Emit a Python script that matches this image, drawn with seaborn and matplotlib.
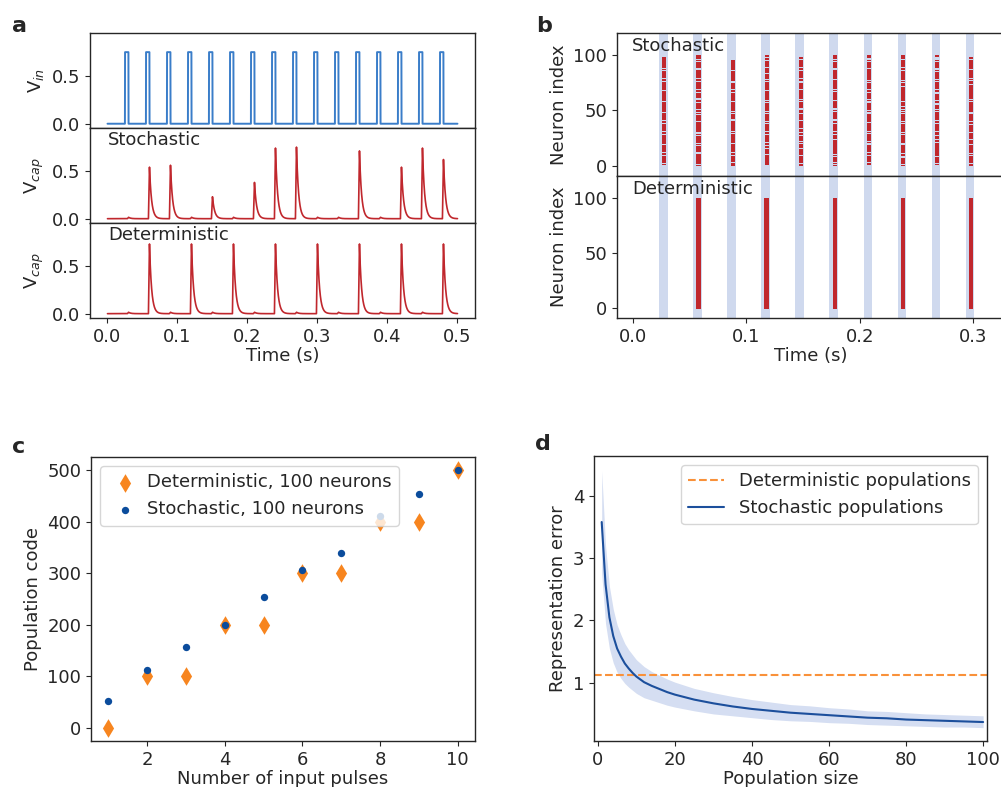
import numpy as np
import matplotlib
matplotlib.use("Agg")
import matplotlib.pyplot as plt
import seaborn as sns

sns.set_style("ticks")
plt.rcParams.update({
    "font.family": ["DejaVu Sans"],
    "font.size": 13,
    "axes.labelsize": 13,
    "xtick.labelsize": 13,
    "ytick.labelsize": 13,
    "legend.fontsize": 13,
    "axes.linewidth": 1.0,
})

# ---- panel a: input pulses and capacitor voltage ----
pulse_on = [0.025, 0.055, 0.085, 0.115, 0.145, 0.175, 0.205, 0.235,
            0.265, 0.295, 0.325, 0.355, 0.385, 0.415, 0.445, 0.475]
PULSE_WIDTH = 0.005
VIN_HIGH = 0.75

stoch_spike_t = [0.06, 0.09, 0.15, 0.21, 0.24, 0.27, 0.36, 0.42, 0.45, 0.48]
stoch_spike_v = [0.54, 0.56, 0.23, 0.38, 0.74, 0.75, 0.71, 0.54, 0.74, 0.62]
stoch_bump_t = [0.03, 0.12, 0.18, 0.30, 0.33, 0.39]

det_spike_t = [0.06, 0.12, 0.18, 0.24, 0.30, 0.36, 0.42, 0.48]
det_spike_v = [0.73, 0.73, 0.73, 0.73, 0.73, 0.73, 0.73, 0.73]
det_bump_t = [0.03, 0.09, 0.15, 0.21, 0.27, 0.33, 0.39, 0.45]
BUMP_V = 0.015

# ---- panel b: raster ----
pulse_end = [0.03, 0.06, 0.09, 0.12, 0.15, 0.18, 0.21, 0.24, 0.27, 0.30]
det_fire_t = [0.06, 0.12, 0.18, 0.24, 0.30]
N_NEURONS = 100
# which of the 100 neurons fired at each pulse (hex bit masks, neuron 0 first)
stoch_fire_hex = [
    "5DB7A EF6D5 BB7ED AF7B6 DD5BE",
    "B5E6D 7A9BF 5D6EB 3DAF6 BE5D7",
    "EDB5F 6BAD7 9EB6D F5BA7 6DEB0",
    "7BDE5 AF6BD 5EB7A DB6F5 E7BAD",
    "D6BE7 5AD9F B6E5D 7BAE6 D5BF6",
    "AF5DB E76BD 9FA5E D6B7D BE6D7",
    "6DB7E 5BAF6 DE5B9 7DAEB 6F5D3",
    "BE6DA 7F5BD 6EA9D B7E6B 5DAF7",
    "5F7DB A6ED5 B7AE6 D9BF5 EA6D1",
    "D7AB6 E5DFB 6A7ED 5BE9A F6DB6",
]

# ---- panel c: population code ----
n_pulses = [1, 2, 3, 4, 5, 6, 7, 8, 9, 10]
det_code = [0, 100, 100, 200, 200, 300, 300, 400, 400, 500]
stoch_code = [53, 112, 158, 200, 253, 306, 340, 410, 453, 500]

# ---- panel d: representation error ----
pop_size = [1, 2, 3, 4, 5, 6, 7, 8, 9, 10, 12, 14, 16, 18, 20, 25, 30, 35,
            40, 45, 50, 55, 60, 65, 70, 75, 80, 85, 90, 95, 100]
err_mean = [3.58, 2.58, 2.05, 1.75, 1.55, 1.42, 1.31, 1.23, 1.16, 1.10,
            1.01, 0.95, 0.90, 0.85, 0.81, 0.73, 0.67, 0.62, 0.58, 0.55,
            0.52, 0.50, 0.48, 0.46, 0.44, 0.43, 0.41, 0.40, 0.39, 0.38, 0.37]
err_hi = [4.40, 3.20, 2.55, 2.18, 1.93, 1.77, 1.63, 1.53, 1.45, 1.37,
          1.26, 1.18, 1.12, 1.06, 1.01, 0.91, 0.84, 0.78, 0.73, 0.69,
          0.65, 0.63, 0.60, 0.58, 0.55, 0.54, 0.52, 0.50, 0.49, 0.48, 0.47]
err_lo = [2.75, 1.95, 1.55, 1.32, 1.17, 1.07, 0.99, 0.93, 0.88, 0.83,
          0.76, 0.72, 0.68, 0.64, 0.61, 0.55, 0.50, 0.47, 0.44, 0.41,
          0.39, 0.38, 0.36, 0.35, 0.33, 0.32, 0.31, 0.30, 0.29, 0.29, 0.28]
DET_ERROR = 1.12

BLUE_IN = "#3a7dc9"
RED = "#c0272d"
BAND = "#cfd9ee"
ORANGE = "#f7851f"
NAVY = "#0b4c9c"

t = np.linspace(0, 0.5, 5001)


def vin_trace():
    v = np.zeros_like(t)
    for on in pulse_on:
        v[(t >= on) & (t < on + PULSE_WIDTH)] = VIN_HIGH
    return v


def cap_trace(spike_t, spike_v, bump_t):
    v = np.zeros_like(t)
    events = list(zip(spike_t, spike_v)) + [(b, BUMP_V) for b in bump_t]
    for tp, a in events:
        rise = (t >= tp - 0.0015) & (t < tp)
        v[rise] += a * (t[rise] - (tp - 0.0015)) / 0.0015
        after = t >= tp
        v[after] += a * np.exp(-(t[after] - tp) / 0.003)
    return v


def fired(hexmask):
    bits = "".join(f"{int(c, 16):04b}" for c in hexmask.replace(" ", ""))
    return [i for i, b in enumerate(bits) if b == "1"]


fig = plt.figure(figsize=(10.01, 7.87), dpi=100)

# panel a
h = (0.958 - 0.596) / 3
axa = [fig.add_axes([0.0899, 0.596 + (2 - i) * h, 0.3846, h]) for i in range(3)]
sns.lineplot(x=t, y=vin_trace(), ax=axa[0], color=BLUE_IN, linewidth=1.4, estimator=None)
sns.lineplot(x=t, y=cap_trace(stoch_spike_t, stoch_spike_v, stoch_bump_t),
             ax=axa[1], color=RED, linewidth=1.2, estimator=None)
sns.lineplot(x=t, y=cap_trace(det_spike_t, det_spike_v, det_bump_t),
             ax=axa[2], color=RED, linewidth=1.2, estimator=None)
axa[0].set_ylabel(r"V$_{in}$")
axa[1].set_ylabel(r"V$_{cap}$")
axa[2].set_ylabel(r"V$_{cap}$")
axa[1].text(0.047, 0.97, "Stochastic", transform=axa[1].transAxes, va="top")
axa[2].text(0.047, 0.97, "Deterministic", transform=axa[2].transAxes, va="top")
for i, ax in enumerate(axa):
    ax.set_xlim(-0.025, 0.525)
    ax.set_ylim(-0.045, 0.95)
    ax.set_yticks([0.0, 0.5])
    ax.set_xticks([0.0, 0.1, 0.2, 0.3, 0.4, 0.5])
    if i < 2:
        ax.tick_params(bottom=False, labelbottom=False)
axa[2].set_xlabel("Time (s)", labelpad=1)

# panel b
hb = (0.958 - 0.596) / 2
axb_s = fig.add_axes([0.6164, 0.596 + hb, 0.3866, hb])
axb_d = fig.add_axes([0.6164, 0.596, 0.3866, hb])
sx, sy = [], []
for p, hx in zip(pulse_end, stoch_fire_hex):
    idx = fired(hx)
    sx += [p - 0.0022] * len(idx)
    sy += idx
dx, dy = [], []
for p in det_fire_t:
    dx += [p - 0.002] * N_NEURONS
    dy += list(range(N_NEURONS))
for ax in (axb_s, axb_d):
    for p in pulse_end:
        ax.axvspan(p - 0.0068, p + 0.0005, color=BAND, lw=0, zorder=0)
    ax.set_xlim(-0.014, 0.327)
    ax.set_ylim(-9, 120)
    ax.set_yticks([0, 50, 100])
    ax.set_xticks([0.0, 0.1, 0.2, 0.3])
    ax.set_ylabel("Neuron index")
    ax.spines["right"].set_visible(False)
# each spike drawn as a small rectangle; adjacent neurons merge into a bar
axb_s.bar(sx, 1.5, width=0.0036, bottom=np.array(sy) - 0.75, color=RED, linewidth=0)
axb_d.bar(dx, 1.5, width=0.0042, bottom=np.array(dy) - 0.75, color=RED, linewidth=0)
axb_s.tick_params(bottom=False, labelbottom=False)
axb_s.text(0.039, 0.97, "Stochastic", transform=axb_s.transAxes, va="top")
axb_d.text(0.039, 0.97, "Deterministic", transform=axb_d.transAxes, va="top")
axb_d.set_xlabel("Time (s)", labelpad=1)

# panel c
axc = fig.add_axes([0.0909, 0.0584, 0.3836, 0.3609])
sns.scatterplot(x=n_pulses, y=det_code, ax=axc, marker="d", s=90, color=ORANGE,
                linewidth=0, label="Deterministic, 100 neurons")
sns.scatterplot(x=n_pulses, y=stoch_code, ax=axc, marker="o", s=28, color=NAVY,
                linewidth=0, label="Stochastic, 100 neurons")
axc.set_xticks([2, 4, 6, 8, 10])
axc.set_yticks([0, 100, 200, 300, 400, 500])
axc.set_xlabel("Number of input pulses", labelpad=1)
axc.set_ylabel("Population code")
axc.legend(loc="upper left", handletextpad=0.2, borderpad=0.4)

# panel d
axd = fig.add_axes([0.5934, 0.0584, 0.3926, 0.3622])
axd.axhline(DET_ERROR, color="#f9913a", linestyle="--", linewidth=1.5,
            label="Deterministic populations")
axd.fill_between(pop_size, err_lo, err_hi, color="#d5def2", linewidth=0)
sns.lineplot(x=pop_size, y=err_mean, ax=axd, color="#1c4f9c", linewidth=1.5,
             label="Stochastic populations")
axd.set_xlim(-1, 101)
axd.set_ylim(0.065, 4.64)
axd.set_xticks([0, 20, 40, 60, 80, 100])
axd.set_yticks([1, 2, 3, 4])
axd.set_xlabel("Population size", labelpad=1)
axd.set_ylabel("Representation error")
axd.legend(loc="upper right")

for lbl, x, y in [("a", 0.012, 0.9593), ("b", 0.5355, 0.9593),
                  ("c", 0.012, 0.4244), ("d", 0.5345, 0.4282)]:
    fig.text(x, y, lbl, fontsize=16, fontweight="bold")

fig.savefig("out.png", dpi=100)
